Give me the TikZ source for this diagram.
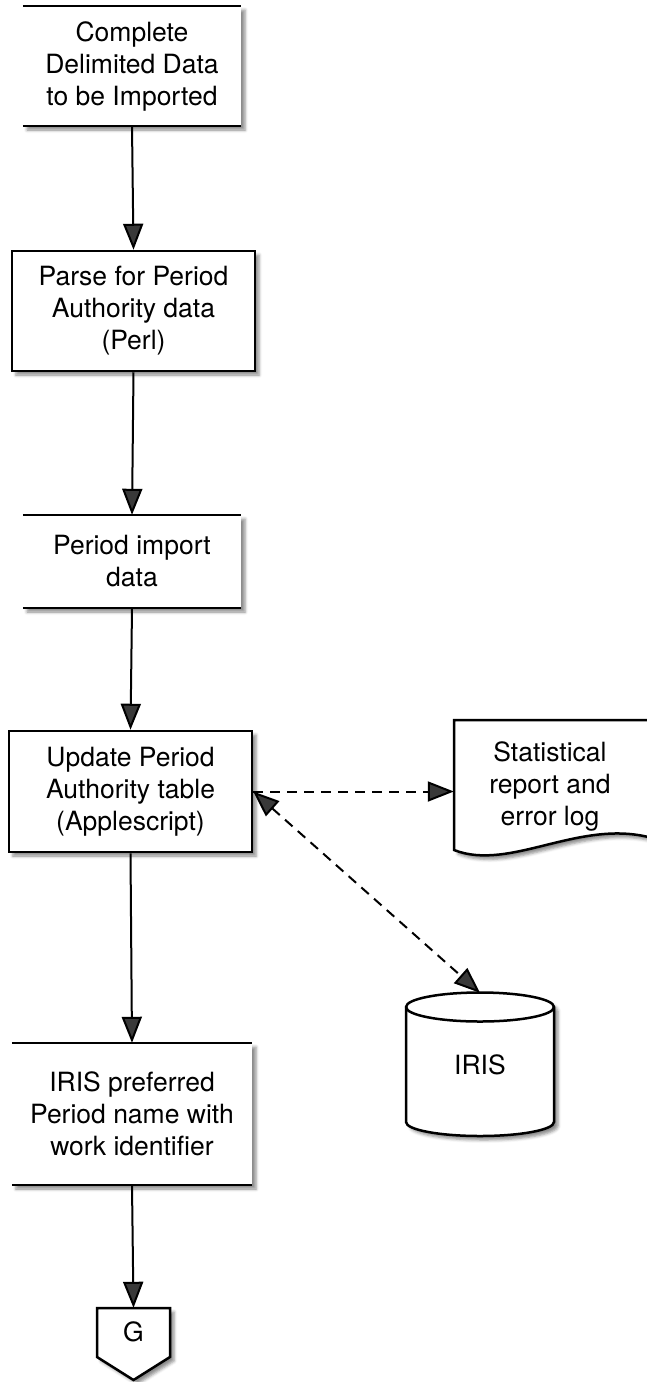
\documentclass[tikz,border=0pt]{standalone}
\usepackage{fontspec}
\setmainfont{TeX Gyre Heros}
\usetikzlibrary{arrows.meta,shadows.blur,calc}
\tikzset{ftri/.tip={Triangle[length=26pt,width=20pt]}}
\begin{document}
\begin{tikzpicture}[x=1pt,y=1pt,
  shad/.style={blur shadow={shadow xshift=4pt, shadow yshift=-4pt, shadow blur radius=3pt, shadow opacity=45}},
  txt/.style={font=\fontsize{26.5}{32}\selectfont, align=center, inner sep=0pt},
  procbox/.style={txt, draw, line width=2.5pt, fill=white, shad},
  databox/.style={txt, fill=white, shad},
  edge/.style={line width=2.5pt},
  flow/.style={line width=2pt, -{ftri}},
  dflow/.style={line width=2pt, dash pattern=on 10pt off 7pt}
]
\useasboundingbox (0,0) rectangle (646,-1382);

% 1 data box
\node[databox, minimum width=218pt, minimum height=120pt] (n1) at (132,-66)
  {Complete\\Delimited Data\\to be Imported};
\draw[edge] (n1.north west) -- (n1.north east);
\draw[edge] (n1.south west) -- (n1.south east);

% 2 process
\node[procbox, minimum width=243pt, minimum height=120pt] (n2) at (133.5,-311)
  {Parse for Period\\Authority data\\(Perl)};

% 3 data box
\node[databox, minimum width=218pt, minimum height=93pt] (n3) at (132,-561.5)
  {Period import\\data};
\draw[edge] (n3.north west) -- (n3.north east);
\draw[edge] (n3.south west) -- (n3.south east);

% 4 process
\node[procbox, minimum width=243pt, minimum height=121pt] (n4) at (130.5,-791.5)
  {Update Period\\Authority table\\(Applescript)};

% 5 document
\path[shad, fill=white, draw, line width=2.5pt]
  (454,-720) -- (652,-720) -- (652,-838)
  .. controls (580,-818) and (510,-872) .. (454,-850) -- cycle;
\node[txt, minimum width=192pt, minimum height=130pt] (stat) at (550,-786)
  {Statistical\\report and\\error log};

% 6 cylinder
\path[shad, fill=white, draw, line width=2.5pt]
  (406,-1007) -- (406,-1122)
  arc[start angle=180, end angle=360, x radius=74pt, y radius=14pt]
  -- (554,-1007)
  arc[start angle=0, end angle=180, x radius=74pt, y radius=14.5pt] -- cycle;
\draw[line width=2.5pt] (406,-1007)
  arc[start angle=180, end angle=360, x radius=74pt, y radius=14.5pt];
\node[txt, minimum width=148pt, minimum height=143pt] (iris) at (480,-1064.5)
  {\raisebox{-4pt}{IRIS}};

% 7 data box
\node[databox, minimum width=240pt, minimum height=142pt] (n6) at (132,-1114)
  {IRIS preferred\\Period name with\\work identifier};
\draw[edge] (n6.north west) -- (n6.north east);
\draw[edge] (n6.south west) -- (n6.south east);

% 8 off-page connector
\path[shad, fill=white, draw, line width=2.5pt]
  (97,-1308) -- (170,-1308) -- (170,-1357) -- (133.5,-1380) -- (97,-1357) -- cycle;
\node[txt, minimum width=73pt, minimum height=49pt] (g) at (133.5,-1332.5)
  {\raisebox{2pt}{G}};

% connectors
\draw[flow] (n1.south) -- (n2.north);
\draw[flow] (n2.south) -- (n3.north);
\draw[flow] (n3.south) -- (n4.north);
\draw[flow] (n4.south) -- (n6.north);
\draw[flow] (n6.south) -- (g.north);
\draw[dflow, -{ftri}] (n4.east) -- (n4.east -| stat.west);
\draw[dflow, {ftri}-{ftri}] (n4.east) -- (iris.north);
\end{tikzpicture}
\end{document}
